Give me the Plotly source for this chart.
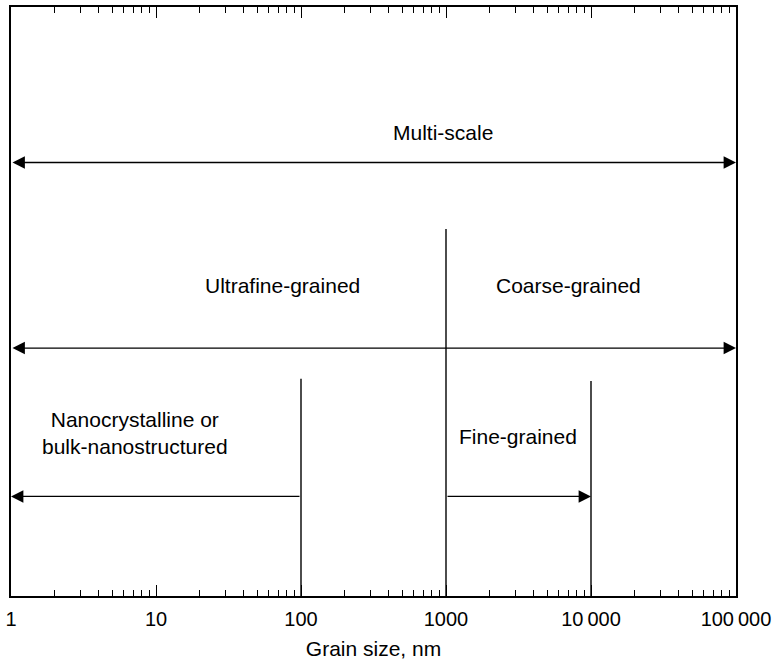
import math
import plotly.graph_objects as go

# Grain-size class boundaries (nm)
x_min, x_max = 1, 100000
tick_vals = [1, 10, 100, 1000, 10000, 100000]
tick_text = ["1", "10", "100", "1000", "10\u2009000", "100\u2009000"]

# Vertical divider lines: x position and top height (0-100 scale)
divider_x = [100, 1000, 10000]
divider_top = [36.9, 62.3, 36.5]

# Arrows: (start x, end x, y, sides)
arrow_names = ["Multi-scale", "Ultrafine", "Nano", "Fine"]
arrow_x0 = [1, 1, 100, 1000]
arrow_x1 = [100000, 100000, 1, 10000]
arrow_y = [73.6, 42.1, 16.9, 16.9]
arrow_side = ["end+start", "end+start", "end", "end"]

# Labels
label_text = ["Multi-scale", "Ultrafine-grained", "Coarse-grained",
              "Nanocrystalline or<br>bulk-nanostructured", "Fine-grained"]
label_x = [949, 74.4, 6964, 7.2, 3158]
label_y = [78.7, 52.8, 52.8, 27.6, 27.1]

FONT = "Liberation Sans, Arial, Helvetica, sans-serif"

fig = go.Figure()
for xv, top in zip(divider_x, divider_top):
    fig.add_trace(go.Scatter(x=[xv, xv], y=[0, top], mode="lines",
                             line=dict(color="black", width=1.4),
                             showlegend=False, hoverinfo="skip"))

annotations = []
for x0, x1, yv, side in zip(arrow_x0, arrow_x1, arrow_y, arrow_side):
    annotations.append(dict(
        x=math.log10(x1), y=yv, ax=math.log10(x0), ay=yv,
        xref="x", yref="y", axref="x", ayref="y",
        text="", showarrow=True, arrowhead=2, startarrowhead=2,
        arrowside=side, arrowsize=1.9, startarrowsize=1.9, arrowwidth=1.3,
        arrowcolor="black", standoff=0, startstandoff=0))

for t, xv, yv in zip(label_text, label_x, label_y):
    annotations.append(dict(x=math.log10(xv), y=yv, xref="x", yref="y",
                            text=t, showarrow=False,
                            font=dict(size=21, color="black", family=FONT)))

fig.update_layout(
    width=776, height=662,
    margin=dict(l=8, r=40, t=5, b=66),
    paper_bgcolor="white", plot_bgcolor="white",
    font=dict(family=FONT, size=20, color="black"),
    annotations=annotations,
    showlegend=False,
)
fig.update_xaxes(
    type="log", range=[math.log10(x_min), math.log10(x_max)],
    tickvals=tick_vals, ticktext=tick_text,
    ticks="inside", ticklen=11, tickwidth=1.2, tickcolor="black",
    minor=dict(ticks="inside", ticklen=6, tickwidth=1.2, tickcolor="black", dtick="D1", showgrid=False),
    showline=True, linecolor="black", linewidth=1.5, mirror="ticks",
    showgrid=False, zeroline=False,
    tickfont=dict(size=20, family=FONT),
    ticklabelstandoff=4,
    title=dict(text="Grain size, nm", font=dict(size=21, family=FONT), standoff=13),
)
fig.update_yaxes(
    range=[0, 100], showticklabels=False, ticks="",
    showline=True, linecolor="black", linewidth=1.5, mirror=True,
    showgrid=False, zeroline=False,
)

fig.write_html("out.html")
